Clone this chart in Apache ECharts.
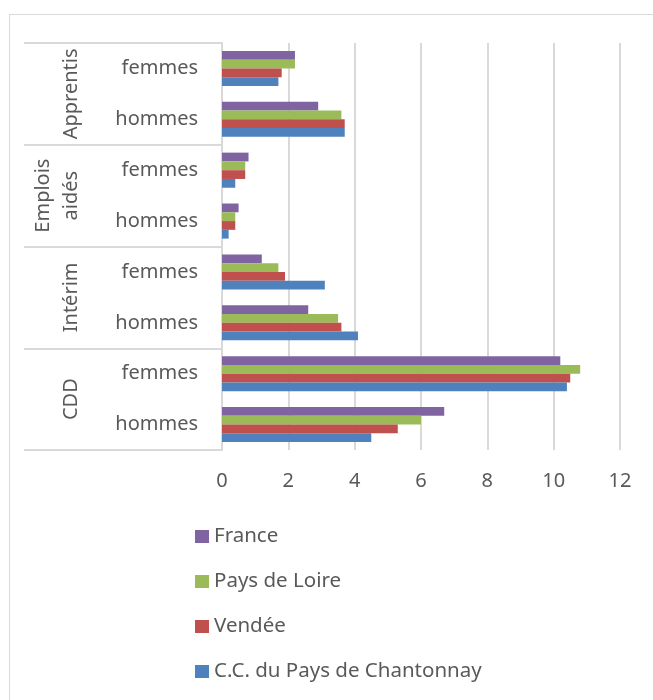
<!DOCTYPE html>
<html>
<head>
<meta charset="utf-8">
<script src="https://cdn.jsdelivr.net/npm/echarts@6/dist/echarts.min.js"></script>
<style>
  html, body { margin: 0; padding: 0; background: #fff; }
  #frame { position: absolute; left: 9px; top: 14px; width: 700px; height: 720px; border: 1px solid #d9d9d9; }
  #chart { position: absolute; left: 0; top: 0; width: 653px; height: 700px; }
</style>
</head>
<body>
<div id="frame"></div>
<div id="chart"></div>
<script>
// groupes de contrats (de bas en haut) et sexes
const groups = ["CDD", "Intérim", "Emplois\naidés", "Apprentis"];
const sexes = ["hommes", "femmes"];
// catégories : CDD hommes, CDD femmes, Intérim hommes, ...
const categories = [];
groups.forEach(g => sexes.forEach(s => categories.push(g + "|" + s)));

// valeurs (%) dans l'ordre des catégories
const chantonnay = [4.5, 10.4, 4.1, 3.1, 0.2, 0.4, 3.7, 1.7];
const vendee = [5.3, 10.5, 3.6, 1.9, 0.4, 0.7, 3.7, 1.8];
const paysDeLoire = [6.0, 10.8, 3.5, 1.7, 0.4, 0.7, 3.6, 2.2];
const france = [6.7, 10.2, 2.6, 1.2, 0.5, 0.8, 2.9, 2.2];

const xTicks = { min: 0, max: 12, interval: 2 };
const legendOrder = ["France", "Pays de Loire", "Vendée", "C.C. du Pays de Chantonnay"];

const font = "'Noto Sans', 'Open Sans', sans-serif";
const textColor = "#595959";
const lineColor = "#d9d9d9";

const chart = echarts.init(document.getElementById("chart"));

const bar = (name, data, color) => ({
  name: name,
  type: "bar",
  data: data,
  barGap: "0%",
  barCategoryGap: "31%",
  itemStyle: { color: color },
  emphasis: { disabled: true }
});

const option = {
  animation: false,
  grid: { left: 222, right: 33, top: 43, bottom: 250, containLabel: false },
  legend: {
    data: legendOrder,
    orient: "vertical",
    left: 190,
    top: 521,
    itemWidth: 14,
    itemHeight: 13,
    itemGap: 24,
    icon: "rect",
    textStyle: { fontFamily: font, fontSize: 20.5, color: textColor }
  },
  xAxis: {
    type: "value",
    min: xTicks.min,
    max: xTicks.max,
    interval: xTicks.interval,
    axisLine: { show: false },
    axisTick: { show: false },
    splitLine: { show: true, lineStyle: { color: lineColor, width: 2 } },
    axisLabel: { margin: 21, fontFamily: font, fontSize: 20, color: textColor }
  },
  yAxis: [
    {
      // sous-catégories femmes / hommes
      type: "category",
      data: categories,
      axisLine: { show: true, lineStyle: { color: lineColor, width: 2 } },
      axisTick: { show: false },
      axisLabel: {
        interval: 0,
        margin: 24,
        fontFamily: font,
        fontSize: 20,
        color: textColor,
        formatter: v => v.split("|")[1]
      }
    },
    {
      // groupes de contrats
      type: "category",
      data: groups,
      position: "left",
      axisLine: { show: false },
      axisTick: { show: true, interval: 0, length: 198, lineStyle: { color: lineColor, width: 2 } },
      axisLabel: {
        interval: 0,
        rotate: 90,
        margin: 137,
        align: "center",
        verticalAlign: "bottom",
        fontFamily: font,
        fontSize: 20,
        lineHeight: 28,
        color: textColor
      }
    }
  ],
  // la première série est dessinée en haut de chaque groupe
  series: [
    bar("France", france, "#8064a2"),
    bar("Pays de Loire", paysDeLoire, "#9bbb59"),
    bar("Vendée", vendee, "#c0504d"),
    bar("C.C. du Pays de Chantonnay", chantonnay, "#4f81bd")
  ]
};

chart.setOption(option);
</script>
</body>
</html>
